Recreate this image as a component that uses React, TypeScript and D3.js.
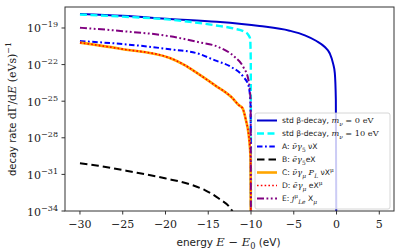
import * as d3 from "d3";

// energies (eV, relative to E0) and decay rates
const eStd0 = [-30, -25, -19.5, -14, -9, -5.5, -3.7, -2.4, -1.37, -0.8, -0.4, -0.2, -0.08, 0];
const rStd0 = [1.4e-18, 1.0e-18, 5.5e-19, 3.2e-19, 1.45e-19, 6.0e-20, 2.5e-20, 9.0e-21, 2.75e-21, 8.5e-22, 1.2e-22, 2.0e-23, 1.3e-25, 1e-40];

const eStd10 = [-30, -25, -19.5, -14.2, -12, -10.7, -10.3, -10.1, -10.03, -10];
const rStd10 = [1.25e-18, 8.5e-19, 4.8e-19, 1.65e-19, 9.0e-20, 4.7e-20, 2.6e-20, 1.3e-20, 2.5e-22, 1e-40];

const eA = [-30, -25, -19.5, -16.2, -14.2, -12.3, -10.9, -10.3, -10.05, -10];
const rA = [8.5e-21, 4.8e-21, 1.8e-21, 8.0e-22, 2.2e-22, 6.3e-23, 1.0e-23, 2.0e-24, 5.0e-26, 1e-40];

const eB = [-30, -27.85, -23.95, -20.06, -16.9, -15.4, -13.8, -12.27, -11.5, -11];
const rB = [8.1e-31, 5.1e-31, 1.66e-31, 4.8e-32, 1.35e-32, 5.2e-33, 1.1e-33, 1.2e-34, 1e-35, 3e-37];

const eC = [-30, -25.3, -19.5, -17.7, -16.2, -14.2, -12.3, -11.4, -11.0, -10.6, -10.3, -10.15, -10.05, -10];
const rC = [6.3e-21, 2.0e-21, 3.5e-22, 8.7e-23, 1.8e-23, 2.0e-24, 2.2e-25, 4.6e-26, 2.75e-26, 2.9e-27, 2.5e-28, 2.5e-29, 1.6e-30, 1e-40];

const eE = [-30, -25, -19.5, -16.2, -13.8, -11.9, -10.9, -10.3, -10.05, -10];
const rE = [1.05e-19, 5.5e-20, 2.1e-20, 7.1e-21, 2.75e-21, 4.2e-22, 6.3e-23, 5.5e-24, 1.26e-25, 1e-40];

const xTicks = [-30, -25, -20, -15, -10, -5, 0, 5];
const yTickExps = [-34, -31, -28, -25, -22, -19];

type Part = [string, "sans" | "it" | "rm" | "sub" | "sup" | "subit"];

const legendLabels: Part[][] = [
  [["std β-decay, ", "sans"], ["m", "it"], ["ν", "subit"], [" = 0 eV", "rm"]],
  [["std β-decay, ", "sans"], ["m", "it"], ["ν", "subit"], [" = 10 eV", "rm"]],
  [["A: ", "sans"], ["ν̄γ", "it"], ["5", "sub"], [" νX", "sans"]],
  [["B: ", "sans"], ["ēγ", "it"], ["5", "sub"], ["eX", "sans"]],
  [["C: ", "sans"], ["ν̄γ", "it"], ["μ", "subit"], [" P", "it"], ["L", "subit"], [" νX", "sans"], ["μ", "sup"]],
  [["D: ", "sans"], ["ēγ", "it"], ["μ", "subit"], [" eX", "sans"], ["μ", "sup"]],
  [["E: ", "sans"], ["j", "it"], ["μ", "sup"], ["Le", "subit"], [" X", "sans"], ["μ", "subit"]],
];

const series = [
  { e: eStd0, r: rStd0, color: "#0000cd", width: 2, dash: "" },
  { e: eStd10, r: rStd10, color: "#00ffff", width: 2.4, dash: "7,3.5" },
  { e: eA, r: rA, color: "#0000ff", width: 2, dash: "5.5,2.5,1.8,2.5" },
  { e: eB, r: rB, color: "#000000", width: 2, dash: "7.5,4" },
  { e: eC, r: rC, color: "#ffa500", width: 2.6, dash: "" },
  { e: eC, r: rC, color: "#ff0000", width: 1.6, dash: "1.6,2.2" },
  { e: eE, r: rE, color: "#800080", width: 2, dash: "7,2.5,1.8,2.5,1.8,2.5" },
];

const W = 407;
const H = 252;
const L = 65, R = 394, T = 7, B = 211;

const SANS = "'DejaVu Sans', sans-serif";
const SERIF = "'DejaVu Serif', serif";

function Rich({ parts, size, sansSize }: { parts: Part[]; size: number; sansSize?: number }) {
  let shift = 0;
  return (
    <>
      {parts.map(([t, k], i) => {
        const target = k === "sub" || k === "subit" ? size * 0.3 : k === "sup" ? -size * 0.45 : 0;
        const dy = target - shift;
        shift = target;
        const small = k === "sub" || k === "subit" || k === "sup";
        return (
          <tspan
            key={i}
            dy={dy}
            fontFamily={k === "sans" ? SANS : SERIF}
            fontStyle={k === "it" || k === "subit" ? "italic" : "normal"}
            fontSize={small ? size * 0.72 : k === "sans" ? sansSize ?? size : size}
          >
            {t}
          </tspan>
        );
      })}
    </>
  );
}

export default function App() {
  const x = d3.scaleLinear().domain([-31.75, 6.72]).range([L, R]);
  const y = d3.scaleLog().domain([1e-34, Math.pow(10, -17.28)]).range([B, T]);

  const line = d3
    .line<[number, number]>()
    .x((d) => x(d[0]))
    .y((d) => y(d[1]))
    .curve(d3.curveMonotoneX);

  const legendX = 255, legendY = 113;
  const rowY = (i: number) => legendY + 7.5 + i * 13;

  return (
    <svg width={W} height={H} style={{ position: "fixed", left: 0, top: 0, background: "#fff" }}>
      <defs>
        <clipPath id="plot">
          <rect x={L} y={T} width={R - L} height={B - T} />
        </clipPath>
      </defs>
      <g clipPath="url(#plot)" fill="none">
        {series.map((s, i) => (
          <path
            key={i}
            d={line(s.e.map((e, j) => [e, s.r[j]] as [number, number])) ?? ""}
            stroke={s.color}
            strokeWidth={s.width}
            strokeDasharray={s.dash || undefined}
          />
        ))}
      </g>

      {/* legend */}
      <g>
        <rect
          x={legendX}
          y={legendY}
          width={135}
          height={96}
          rx={2}
          fill="#fff"
          fillOpacity={0.8}
          stroke="#cccccc"
          strokeWidth={0.8}
        />
        {series.map((s, i) => (
          <g key={i}>
            <line
              x1={legendX + 2}
              x2={legendX + 22}
              y1={rowY(i)}
              y2={rowY(i)}
              stroke={s.color}
              strokeWidth={s.width}
              strokeDasharray={s.dash || undefined}
            />
            <text x={legendX + 27} y={rowY(i) + 2.7} fill="#222">
              <Rich parts={legendLabels[i]} size={8.2} sansSize={7.6} />
            </text>
          </g>
        ))}
      </g>

      {/* frame */}
      <rect x={L} y={T} width={R - L} height={B - T} fill="none" stroke="#333" strokeWidth={1} />

      {/* x axis */}
      {xTicks.map((t) => (
        <g key={t} transform={`translate(${x(t)},${B})`}>
          <line y2={3.5} stroke="#333" />
          <text y={17} textAnchor="middle" fontFamily={SERIF} fontSize={11} fill="#222">
            {t < 0 ? `−${-t}` : t}
          </text>
        </g>
      ))}
      <text x={(L + R) / 2 - 1} y={246} textAnchor="middle" fill="#222">
        <Rich
          parts={[["energy ", "sans"], ["E", "it"], [" − ", "rm"], ["E", "it"], ["0", "sub"], [" (eV)", "sans"]]}
          size={11.5}
          sansSize={10.5}
        />
      </text>

      {/* y axis */}
      {yTickExps.map((p) => (
        <g key={p} transform={`translate(${L},${y(Math.pow(10, p))})`}>
          <line x2={-3.5} stroke="#333" />
          <text x={-7} y={4.5} textAnchor="end" fill="#222">
            <tspan fontFamily={SERIF} fontSize={11}>10</tspan>
            <tspan fontFamily={SERIF} fontSize={8} dy={-5}>{`−${-p}`}</tspan>
          </text>
        </g>
      ))}
      <text transform={`translate(16,${(T + B) / 2}) rotate(-90)`} textAnchor="middle" fill="#222">
        <Rich
          parts={[["decay rate ", "sans"], ["d", "rm"], ["Γ", "rm"], ["/d", "rm"], ["E", "it"], [" (eVs)", "rm"], ["−1", "sup"]]}
          size={11}
          sansSize={10}
        />
      </text>
    </svg>
  );
}
